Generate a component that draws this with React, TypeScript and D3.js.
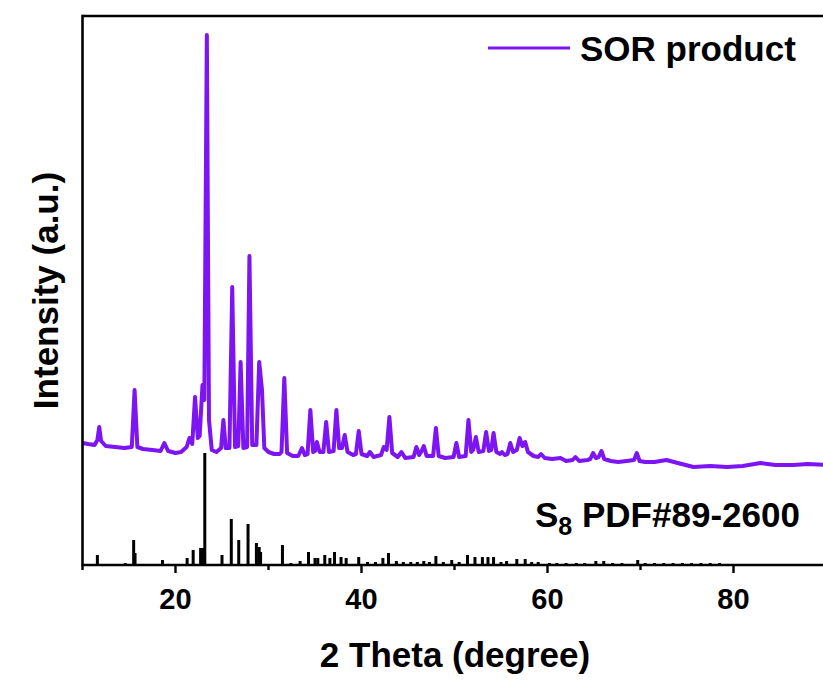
import React from "react";
import * as d3 from "d3";

// SOR product XRD pattern: 2θ (degree) and intensity (a.u.)
const sorTheta = [
  10.0, 10.6, 11.3, 11.6, 11.8, 12.0, 12.5, 13.5, 14.5, 15.3, 15.6, 15.9, 16.5, 17.5, 18.4, 18.8, 19.2,
  20.0, 20.6, 21.2, 21.5, 21.8, 22.1, 22.4, 22.6, 22.9, 23.1, 23.37, 23.6, 23.9, 24.4, 24.9, 25.15, 25.4,
  25.8, 26.1, 26.4, 26.75, 27.0, 27.3, 27.7, 27.95, 28.25, 28.7, 29.0, 29.3, 29.55, 30.0, 30.6, 31.2,
  31.4, 31.7, 32.0, 32.6, 33.2, 33.6, 33.9, 34.2, 34.5, 34.8, 35.0, 35.2, 35.5, 35.9, 36.2, 36.5, 37.0,
  37.3, 37.6, 37.9, 38.2, 38.5, 39.1, 39.4, 39.7, 40.0, 40.6, 40.9, 41.3, 42.1, 42.4, 42.7, 43.0, 43.3,
  43.9, 44.3, 44.7, 45.6, 45.9, 46.2, 46.4, 46.7, 47.0, 47.7, 48.0, 48.3, 49.0, 49.9, 50.2, 50.5, 51.2,
  51.5, 51.8, 52.0, 52.3, 52.6, 53.1, 53.4, 53.7, 53.95, 54.2, 54.5, 54.9, 55.1, 55.4, 55.7, 56.0, 56.3,
  56.7, 57.0, 57.3, 57.6, 57.9, 58.5, 59.0, 59.3, 59.7, 60.5, 61.4, 62.0, 62.7, 63.0, 63.4, 64.3, 64.6,
  64.9, 65.2, 65.5, 65.8, 66.1, 66.8, 67.6, 68.5, 69.3, 69.6, 69.9, 70.5, 71.5, 72.8, 74.0, 75.7, 77.5,
  79.3, 81.0, 82.9, 84.5, 86.4, 88.0, 90.0,
];
const sorIntensity = [
  122, 121, 120, 125, 138, 124, 119, 118, 117, 118, 175, 118, 116, 115, 114, 122, 114,
  112, 113, 118, 127, 121, 168, 127, 129, 180, 165, 530, 145, 115, 113, 117, 145, 117,
  117, 278, 118, 119, 203, 117, 118, 309, 120, 120, 203, 175, 117, 113, 111, 111,
  113, 187, 112, 109, 109, 117, 110, 111, 155, 113, 114, 123, 113, 113, 143, 113, 114,
  155, 117, 117, 130, 113, 110, 111, 134, 111, 109, 113, 108, 110, 118, 115, 148, 112,
  108, 113, 107, 108, 118, 110, 113, 119, 109, 109, 137, 109, 107, 108, 122, 108, 109,
  145, 113, 115, 128, 113, 114, 133, 114, 115, 132, 113, 111, 113, 110, 111, 122, 113,
  115, 127, 119, 123, 113, 109, 108, 111, 107, 106, 107, 104, 105, 108, 104, 105, 106,
  112, 107, 108, 114, 106, 104, 103, 104, 105, 112, 104, 103, 103, 105, 102, 98, 99,
  98, 99, 102, 100, 100, 101, 100,
];

// S8 PDF#89-2600 reference lines
const refTheta = [
  11.6, 14.6, 15.5, 15.65, 18.6, 21.25, 21.9, 22.7, 22.9, 23.15, 25.0, 26.0, 26.8, 27.8, 28.7, 29.0,
  29.15, 31.5, 32.4, 33.4, 34.3, 35.0, 35.3, 36.05, 36.6, 37.1, 37.8, 38.35, 39.7, 40.65, 41.5, 42.3,
  42.9, 43.75, 44.5, 45.3, 46.0, 46.7, 47.3, 48.0, 48.8, 49.7, 50.5, 51.4, 52.2, 53.0, 53.6, 54.2,
  55.0, 55.6, 56.7, 57.6, 58.3, 59.0, 60.2, 61.0, 62.0, 63.1, 64.0, 65.2, 66.05, 67.0, 68.0, 69.7,
  70.5, 71.5, 72.5, 73.5, 74.5, 75.5, 76.5, 77.5, 78.5,
];
const refIntensity = [
  10, 2, 25, 12, 5, 7, 15, 17, 17, 112, 10, 46, 25, 41, 22, 18,
  13, 20, 2, 4, 13, 7, 7, 10, 7, 13, 8, 7, 8, 3, 3, 7,
  12, 4, 3, 3, 3, 4, 3, 9, 3, 5, 3, 10, 8, 8, 8, 8,
  3, 4, 6, 6, 3, 3, 2, 2, 2, 2, 2, 4, 4, 2, 2, 5,
  2, 2, 2, 2, 2, 2, 2, 2, 2,
];

const xMajorTicks = [20, 40, 60, 80];
const xMinorTicks = [10, 30, 50, 70, 90];

const W = 823;
const H = 682;
const left = 82.5;
const top = 16;
const bottom = 565;
const FONT = "Arial, 'Liberation Sans', Helvetica, sans-serif";
const PURPLE = "#7D14F4";

export default function App() {
  const x = d3.scaleLinear().domain([10, 90]).range([left, left + 80 * 9.3]);
  const y = d3.scaleLinear().domain([0, 549]).range([bottom, top]);

  const sorPts: [number, number][] = sorTheta.map((t, i) => [t, sorIntensity[i]]);
  const line = d3
    .line<[number, number]>()
    .x((d) => x(d[0]))
    .y((d) => y(d[1]));

  return (
    <svg
      width={W}
      height={H}
      style={{ position: "absolute", left: 0, top: 0, background: "#fff", display: "block" }}
    >
      <rect x={0} y={0} width={W} height={H} fill="#fff" />
      <defs>
        <clipPath id="plotclip">
          <rect x={left} y={top} width={W - left} height={bottom - top} />
        </clipPath>
      </defs>

      {/* reference sticks */}
      <g clipPath="url(#plotclip)">
        {refTheta.map((t, i) => (
          <line
            key={i}
            x1={x(t)}
            x2={x(t)}
            y1={y(0)}
            y2={y(refIntensity[i])}
            stroke="#000"
            strokeWidth={3}
          />
        ))}
        <path
          d={line(sorPts) || ""}
          fill="none"
          stroke={PURPLE}
          strokeWidth={4}
          strokeLinejoin="round"
          strokeLinecap="round"
        />
      </g>

      {/* frame */}
      <line x1={left} x2={W} y1={top} y2={top} stroke="#000" strokeWidth={2.6} />
      <line x1={left} x2={left} y1={top - 1.3} y2={bottom + 1.3} stroke="#000" strokeWidth={2.6} />
      <line x1={left} x2={W} y1={bottom} y2={bottom} stroke="#000" strokeWidth={2.6} />

      {/* ticks */}
      {xMajorTicks.map((t) => (
        <line key={"M" + t} x1={x(t)} x2={x(t)} y1={bottom} y2={bottom + 8} stroke="#000" strokeWidth={2.4} />
      ))}
      {xMinorTicks.map((t) => (
        <line key={"m" + t} x1={x(t)} x2={x(t)} y1={bottom} y2={bottom + 5} stroke="#000" strokeWidth={2.4} />
      ))}
      {xMajorTicks.map((t) => (
        <text
          key={"L" + t}
          x={x(t)}
          y={609}
          textAnchor="middle"
          fontFamily={FONT}
          fontWeight="bold"
          fontSize={29}
          fill="#000"
        >
          {t}
        </text>
      ))}

      {/* axis titles */}
      <text
        x={455}
        y={667}
        textAnchor="middle"
        fontFamily={FONT}
        fontWeight="bold"
        fontSize={35}
        fill="#000"
      >
        2 Theta (degree)
      </text>
      <text
        transform={`translate(58, ${(top + bottom) / 2}) rotate(-90)`}
        textAnchor="middle"
        fontFamily={FONT}
        fontWeight="bold"
        fontSize={35}
        fill="#000"
      >
        Intensity (a.u.)
      </text>

      {/* legend */}
      <line x1={488} x2={570} y1={48} y2={48} stroke={PURPLE} strokeWidth={3} />
      <text x={580} y={61} fontFamily={FONT} fontWeight="bold" fontSize={35} fill="#000">
        SOR product
      </text>

      {/* reference label */}
      <text x={535} y={527} fontFamily={FONT} fontWeight="bold" fontSize={35} fill="#000">
        S
        <tspan fontSize={25} dy={8}>8</tspan>
        <tspan dy={-8}> PDF#89-2600</tspan>
      </text>
    </svg>
  );
}
